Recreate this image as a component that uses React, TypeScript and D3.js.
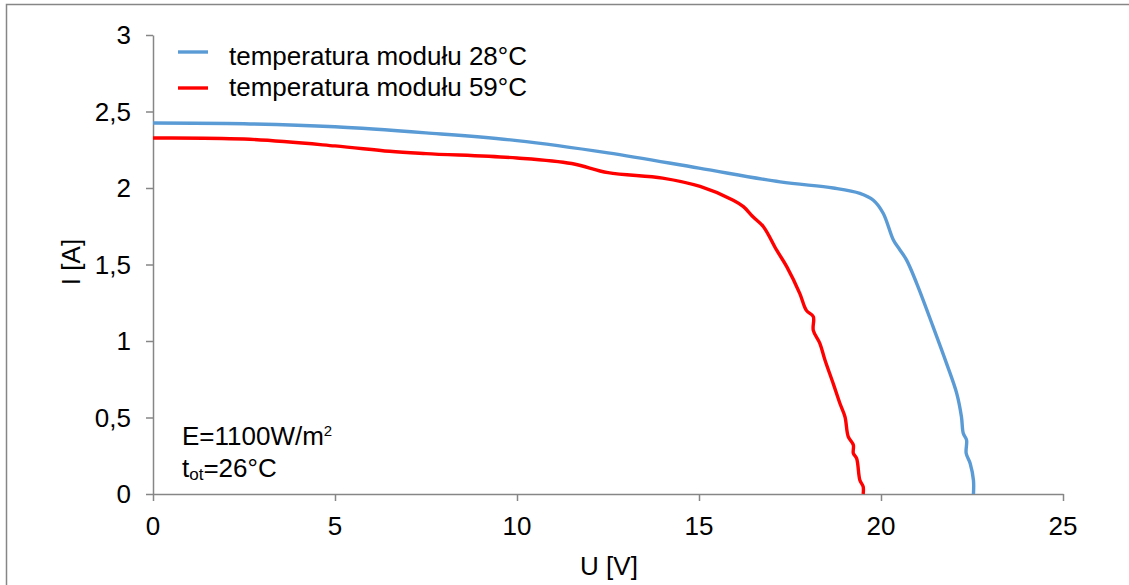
import React, { useEffect, useRef } from "react";
import * as d3 from "d3";

// U [V] and I [A]
const blueU = [0, 2.5, 5, 7.5, 10, 12.5, 15, 17.23, 18.69, 19.42, 19.79, 20.06, 20.34, 20.52, 20.7, 20.98, 21.43, 21.8, 22.08, 22.21, 22.26, 22.35, 22.34, 22.45, 22.54, 22.54];
const blueI = [2.425, 2.42, 2.4, 2.36, 2.31, 2.23, 2.13, 2.04, 2.0, 1.965, 1.92, 1.835, 1.66, 1.595, 1.53, 1.377, 1.094, 0.854, 0.658, 0.505, 0.397, 0.353, 0.266, 0.2, 0.09, 0];
const redU = [0, 2.5, 5, 6.5, 7.5, 10, 11.5, 12.5, 14, 15.03, 15.94, 16.22, 16.49, 16.77, 17.13, 17.41, 17.77, 17.95, 18.14, 18.14, 18.32, 18.46, 18.69, 18.87, 19.01, 19.1, 19.24, 19.24, 19.33, 19.42, 19.51, 19.51];
const redI = [2.327, 2.32, 2.275, 2.24, 2.225, 2.196, 2.16, 2.1, 2.065, 2.01, 1.92, 1.878, 1.81, 1.747, 1.595, 1.486, 1.31, 1.2, 1.159, 1.07, 0.985, 0.876, 0.72, 0.593, 0.505, 0.375, 0.32, 0.266, 0.233, 0.09, 0.048, 0];
const seriesNames = ["temperatura modułu 28°C", "temperatura modułu 59°C"];
const seriesColors = ["#5B9BD5", "#FF0000"];
const xTicks = [0, 5, 10, 15, 20, 25];
const yTicks = [0, 0.5, 1, 1.5, 2, 2.5, 3];

const W = 1129;
const H = 585;
const FONT = "'Liberation Sans', Arial, sans-serif";
const FS = "26px";
const AXIS = "#868686";

function App() {
  const svgRef = useRef<SVGSVGElement>(null);

  useEffect(() => {
    const svg = d3.select(svgRef.current);
    svg.selectAll("*").remove();

    const x = d3.scaleLinear().domain([0, 25]).range([153, 1063]);
    const y = d3.scaleLinear().domain([0, 3]).range([494, 35]);

    // outer frame (right and bottom edges fall outside the picture)
    svg
      .append("path")
      .attr("d", `M6.5,${H} V4.5 H${W}`)
      .attr("fill", "none")
      .attr("stroke", AXIS)
      .attr("stroke-width", 1.5);

    const xAxis = d3.axisBottom(x).tickValues(xTicks).tickSizeInner(7).tickSizeOuter(0).tickFormat(() => "");
    const yAxis = d3.axisLeft(y).tickValues(yTicks).tickSizeInner(7).tickSizeOuter(0).tickFormat(() => "");

    const gx = svg.append("g").attr("transform", "translate(0,494)").call(xAxis);
    const gy = svg.append("g").attr("transform", "translate(153,0)").call(yAxis);
    [gx, gy].forEach((g) => {
      g.selectAll("path, line").attr("stroke", AXIS).attr("stroke-width", 1.5);
    });

    const txt = svg.append("g").style("font-family", FONT).style("font-size", FS).attr("fill", "#000");

    txt
      .selectAll(".xl")
      .data(xTicks)
      .join("text")
      .attr("x", (d) => x(d))
      .attr("y", 535)
      .attr("text-anchor", "middle")
      .text((d) => String(d));
    txt
      .selectAll(".yl")
      .data(yTicks)
      .join("text")
      .attr("x", 131)
      .attr("y", (d) => y(d) + 9)
      .attr("text-anchor", "end")
      .text((d) => String(d).replace(".", ","));

    const line = d3
      .line<[number, number]>()
      .x((d) => x(d[0]))
      .y((d) => y(d[1]))
      .curve(d3.curveCatmullRom.alpha(0.5));

    const series = [
      d3.zip(blueU, blueI) as [number, number][],
      d3.zip(redU, redI) as [number, number][],
    ];
    series.forEach((pts, i) => {
      svg
        .append("path")
        .attr("d", line(pts))
        .attr("fill", "none")
        .attr("stroke", seriesColors[i])
        .attr("stroke-width", 3.4)
        .attr("stroke-linejoin", "round");
    });

    // legend
    const lineY = [52, 88];
    const textY = [65, 96];
    seriesNames.forEach((name, i) => {
      svg
        .append("line")
        .attr("x1", 178)
        .attr("x2", 208)
        .attr("y1", lineY[i])
        .attr("y2", lineY[i])
        .attr("stroke", seriesColors[i])
        .attr("stroke-width", 3.4);
      txt.append("text").attr("x", 229).attr("y", textY[i]).text(name);
    });

    // axis titles
    txt.append("text").attr("x", 609).attr("y", 575).attr("text-anchor", "middle").text("U [V]");
    txt
      .append("text")
      .attr("transform", "translate(80,262) rotate(-90)")
      .attr("text-anchor", "middle")
      .text("I [A]");

    // conditions note
    const e = txt.append("text").attr("x", 182).attr("y", 445);
    e.append("tspan").text("E=1100W/m");
    e.append("tspan").attr("dy", -9).style("font-size", "15px").text("2");
    const t = txt.append("text").attr("x", 182).attr("y", 477);
    t.append("tspan").text("t");
    t.append("tspan").attr("dy", 3).style("font-size", "17px").text("ot");
    t.append("tspan").attr("dy", -3).text("=26°C");
  }, []);

  return (
    <svg
      ref={svgRef}
      width={W}
      height={H}
      style={{ position: "absolute", left: 0, top: 0, background: "#fff" }}
    />
  );
}

export default App;
